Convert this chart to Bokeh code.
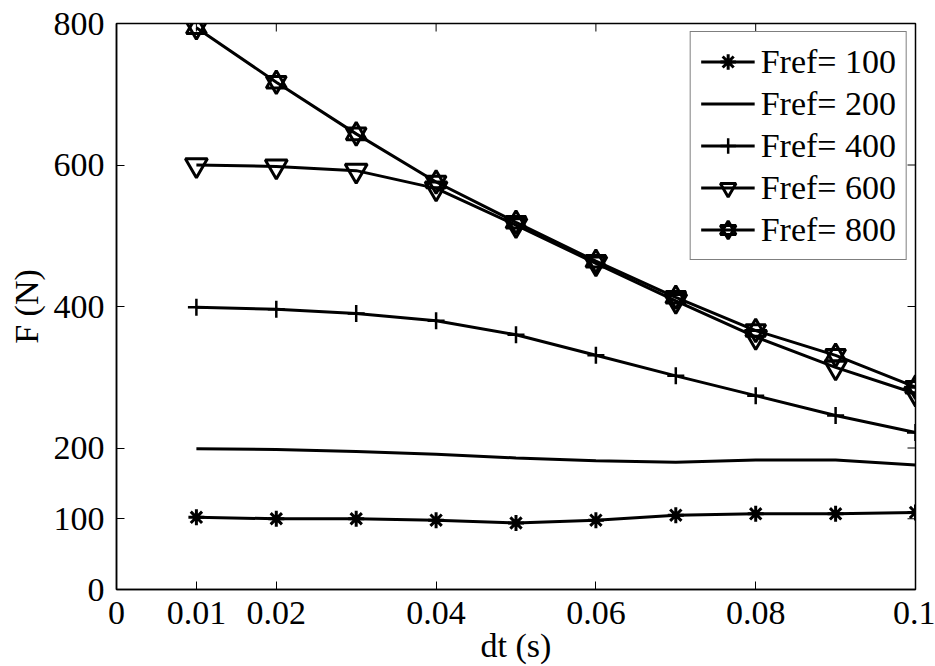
import math
from bokeh.plotting import figure
from bokeh.models import Range1d, FixedTicker
from bokeh.embed import file_html
from bokeh.resources import INLINE

dt = [0.01, 0.02, 0.03, 0.04, 0.05, 0.06, 0.07, 0.08, 0.09, 0.10]
f100 = [102, 100, 100, 98, 94, 98, 105, 107, 107, 109]
f200 = [199, 198, 195, 191, 186, 182, 180, 183, 183, 176]
f400 = [399, 396, 390, 380, 360, 331, 302, 274, 246, 222]
f600 = [600, 598, 592, 567, 515, 461, 408, 357, 314, 277]
f800 = [794, 717, 644, 576, 519, 464, 413, 366, 331, 286]

x_min, x_max = 0, 0.1
y_min, y_max = 0, 800
x_ticks = [0, 0.01, 0.02, 0.04, 0.06, 0.08, 0.1]
y_ticks = [0, 100, 200, 400, 600, 800]
labels = ["Fref= 100", "Fref= 200", "Fref= 400", "Fref= 600", "Fref= 800"]
x_title = "dt (s)"
y_title = "F (N)"

FONT = "Liberation Serif"
FS = "34px"

p = figure(width=935, height=666, output_backend="svg", toolbar_location=None,
           x_range=Range1d(x_min, x_max), y_range=Range1d(y_min, y_max),
           min_border_left=116, min_border_right=20, min_border_top=23,
           min_border_bottom=77)
p.grid.visible = False
p.outline_line_color = "black"
p.outline_line_width = 1.5

# mirror ticks on the top and right edges (half of each dash is clipped by the frame)
p.scatter(x_ticks, [y_max] * len(x_ticks), marker="dash", size=16, angle=math.pi / 2,
          line_color="black", line_width=1)
p.scatter([x_max] * len(y_ticks), y_ticks, marker="dash", size=16,
          line_color="black", line_width=1)

lw = 3
# Fref=100 asterisks
p.line(dt, f100, line_color="black", line_width=lw, legend_label=labels[0])
p.scatter(dt, f100, marker="asterisk", size=16, line_color="black", line_width=3,
          legend_label=labels[0])
# Fref=200 plain line
p.line(dt, f200, line_color="black", line_width=lw, legend_label=labels[1])
# Fref=400 plus
p.line(dt, f400, line_color="black", line_width=lw, legend_label=labels[2])
p.scatter(dt, f400, marker="cross", size=17, line_color="black", line_width=2.5,
          legend_label=labels[2])
# Fref=600 down triangles
p.line(dt, f600, line_color="black", line_width=lw, legend_label=labels[3])
p.scatter(dt, f600, marker="inverted_triangle", size=22, fill_color=None,
          line_color="black", line_width=3, legend_label=labels[3])
# Fref=800 hexagrams
p.line(dt, f800, line_color="black", line_width=lw, legend_label=labels[4])
p.scatter(dt, f800, marker="triangle", size=20, fill_color=None,
          line_color="black", line_width=3, legend_label=labels[4])
p.scatter(dt, f800, marker="inverted_triangle", size=20, fill_color=None,
          line_color="black", line_width=3, legend_label=labels[4])

for ax in (p.xaxis[0], p.yaxis[0]):
    ax.major_tick_in = 8
    ax.major_tick_out = 0
    ax.minor_tick_line_color = None
    ax.axis_line_width = 1.5
    ax.major_tick_line_color = "black"
    ax.major_label_text_font = FONT
    ax.major_label_text_font_size = FS
    ax.major_label_text_color = "black"
    ax.axis_label_text_font = FONT
    ax.axis_label_text_font_size = FS
    ax.axis_label_text_font_style = "normal"
    ax.axis_label_text_color = "black"

p.xaxis[0].ticker = FixedTicker(ticks=x_ticks)
p.xaxis[0].major_label_overrides = {0: "0", 0.1: "0.1"}
p.yaxis[0].ticker = FixedTicker(ticks=y_ticks)
p.xaxis[0].axis_label = x_title
p.yaxis[0].axis_label = y_title
p.xaxis[0].major_label_standoff = 12
p.xaxis[0].axis_label_standoff = 0
p.yaxis[0].major_label_standoff = 12
p.yaxis[0].axis_label_standoff = 6

lg = p.legend[0]
lg.location = "top_right"
lg.margin = 8
lg.padding = 10
lg.spacing = 3
lg.glyph_width = 54
lg.glyph_height = 39
lg.label_height = 39
lg.label_standoff = 6
lg.label_text_font = FONT
lg.label_text_font_size = FS
lg.label_text_color = "black"
lg.border_line_color = "black"
lg.border_line_width = 1.5
lg.background_fill_color = "white"
lg.background_fill_alpha = 1.0

open("out.html", "w").write(file_html(p, INLINE))
